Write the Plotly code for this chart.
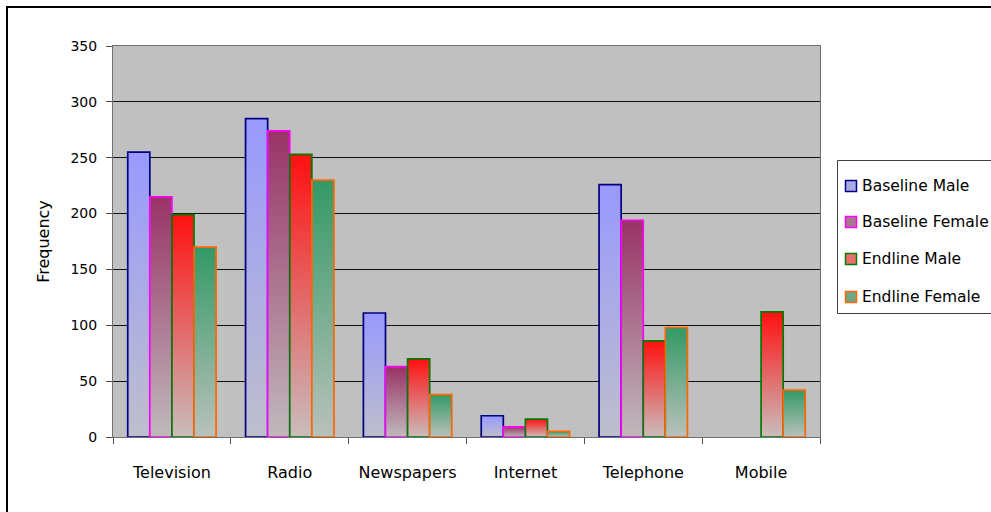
import plotly.graph_objects as go

categories = ["Television", "Radio", "Newspapers", "Internet", "Telephone", "Mobile"]
series_names = ["Baseline Male", "Baseline Female", "Endline Male", "Endline Female"]
baseline_male = [255, 285, 111, 19, 226, 0]
baseline_female = [215, 274, 63, 9, 194, 0]
endline_male = [199, 253, 70, 16, 86, 112]
endline_female = [170, 230, 38, 5, 98, 42]
y_ticks = [0, 50, 100, 150, 200, 250, 300, 350]

series_values = [baseline_male, baseline_female, endline_male, endline_female]
top_colors = ["#9999FF", "#993366", "#FF1010", "#339966"]
bottom_colors = ["#BEBECC", "#C0B9BC", "#C9BDBD", "#B9C1BB"]
legend_colors = ["#AAAAE6", "#A8788C", "#E87070", "#6FA888"]
border_colors = ["#000080", "#FF00FF", "#007A00", "#FF6600"]

FONT = "DejaVu Sans"
n_series = len(series_names)
group_width = 0.75
bar_w = group_width / n_series
x_idx = list(range(len(categories)))

W, H = 991, 512
ml, mr, mt, mb = 113, 171, 46, 75
pw, ph = W - ml - mr, H - mt - mb


def px_x(px):
    return (px - ml) / pw


def px_y(py):
    return 1 - (py - mt) / ph


fig = go.Figure()

# Base bars (library grouped bars)
for j, name in enumerate(series_names):
    fig.add_trace(go.Bar(
        x=x_idx, y=series_values[j], name=name,
        marker=dict(color=legend_colors[j], line=dict(width=0)),
        showlegend=False, hoverinfo="skip",
    ))

# Gradient overlays for each bar, derived from the same data
for j, name in enumerate(series_names):
    for i, v in enumerate(series_values[j]):
        if v <= 0:
            continue
        x0 = i - group_width / 2 + bar_w * j
        x1 = x0 + bar_w
        fig.add_trace(go.Scatter(
            x=[x0, x1, x1, x0, x0], y=[0, 0, v, v, 0],
            mode="lines", fill="toself",
            fillgradient=dict(type="vertical",
                              colorscale=[[0, bottom_colors[j]], [1, top_colors[j]]]),
            line=dict(color=border_colors[j], width=1.7),
            showlegend=False, hoverinfo="skip",
        ))

# Legend drawn as box + swatches + text
shapes = [dict(type="rect", xref="paper", yref="paper",
               x0=px_x(7), x1=px_x(1100), y0=px_y(700), y1=px_y(7),
               line=dict(color="black", width=2), fillcolor="rgba(0,0,0,0)", layer="below"),
          dict(type="rect", xref="paper", yref="paper",
               x0=px_x(837.5), x1=px_x(1100), y0=px_y(313.5), y1=px_y(160.5),
               line=dict(color="#404040", width=1), fillcolor="white", layer="below")]
annotations = []
legend_rows = [186, 222, 259, 297]
for j, name in enumerate(series_names):
    cy = legend_rows[j]
    shapes.append(dict(type="rect", xref="paper", yref="paper",
                       x0=px_x(845.5), x1=px_x(856.5), y0=px_y(cy + 5.5), y1=px_y(cy - 5.5),
                       line=dict(color=border_colors[j], width=1.5), fillcolor=legend_colors[j]))
    annotations.append(dict(text=name, xref="paper", yref="paper", x=px_x(860), y=px_y(cy),
                            xanchor="left", yanchor="middle", showarrow=False,
                            font=dict(family=FONT, size=15.5, color="black")))

fig.update_layout(
    width=W, height=H,
    margin=dict(l=ml, r=mr, t=mt, b=mb, pad=0, autoexpand=False),
    paper_bgcolor="white", plot_bgcolor="#C0C0C0",
    barmode="group", bargap=0.25, bargroupgap=0,
    font=dict(family=FONT, size=15, color="black"),
    showlegend=False,
    xaxis=dict(
        type="linear", range=[-0.5, len(categories) - 0.5],
        tickmode="array", tickvals=x_idx, ticktext=categories,
        ticks="", showgrid=False, zeroline=False,
        showline=True, linecolor="#707070", linewidth=1, mirror=True,
        tickfont=dict(family=FONT, size=16, color="black"),
        ticklabelstandoff=21,
        minor=dict(tickmode="array", tickvals=[i - 0.5 for i in range(len(categories) + 1)],
                   ticks="outside", ticklen=6, tickcolor="#505050", tickwidth=1, showgrid=False),
    ),
    yaxis=dict(
        range=[0, 350], tickmode="array", tickvals=y_ticks,
        ticks="outside", ticklen=6, tickcolor="#505050",
        showgrid=True, gridcolor="#101010", gridwidth=1,
        zeroline=False,
        showline=True, linecolor="#707070", linewidth=1, mirror=True,
        tickfont=dict(family=FONT, size=14, color="black"),
        ticklabelstandoff=6,
        title=dict(text="Frequency", font=dict(family=FONT, size=16, color="black"), standoff=16),
    ),
    shapes=shapes,
    annotations=annotations,
)

fig.write_html("out.html")
